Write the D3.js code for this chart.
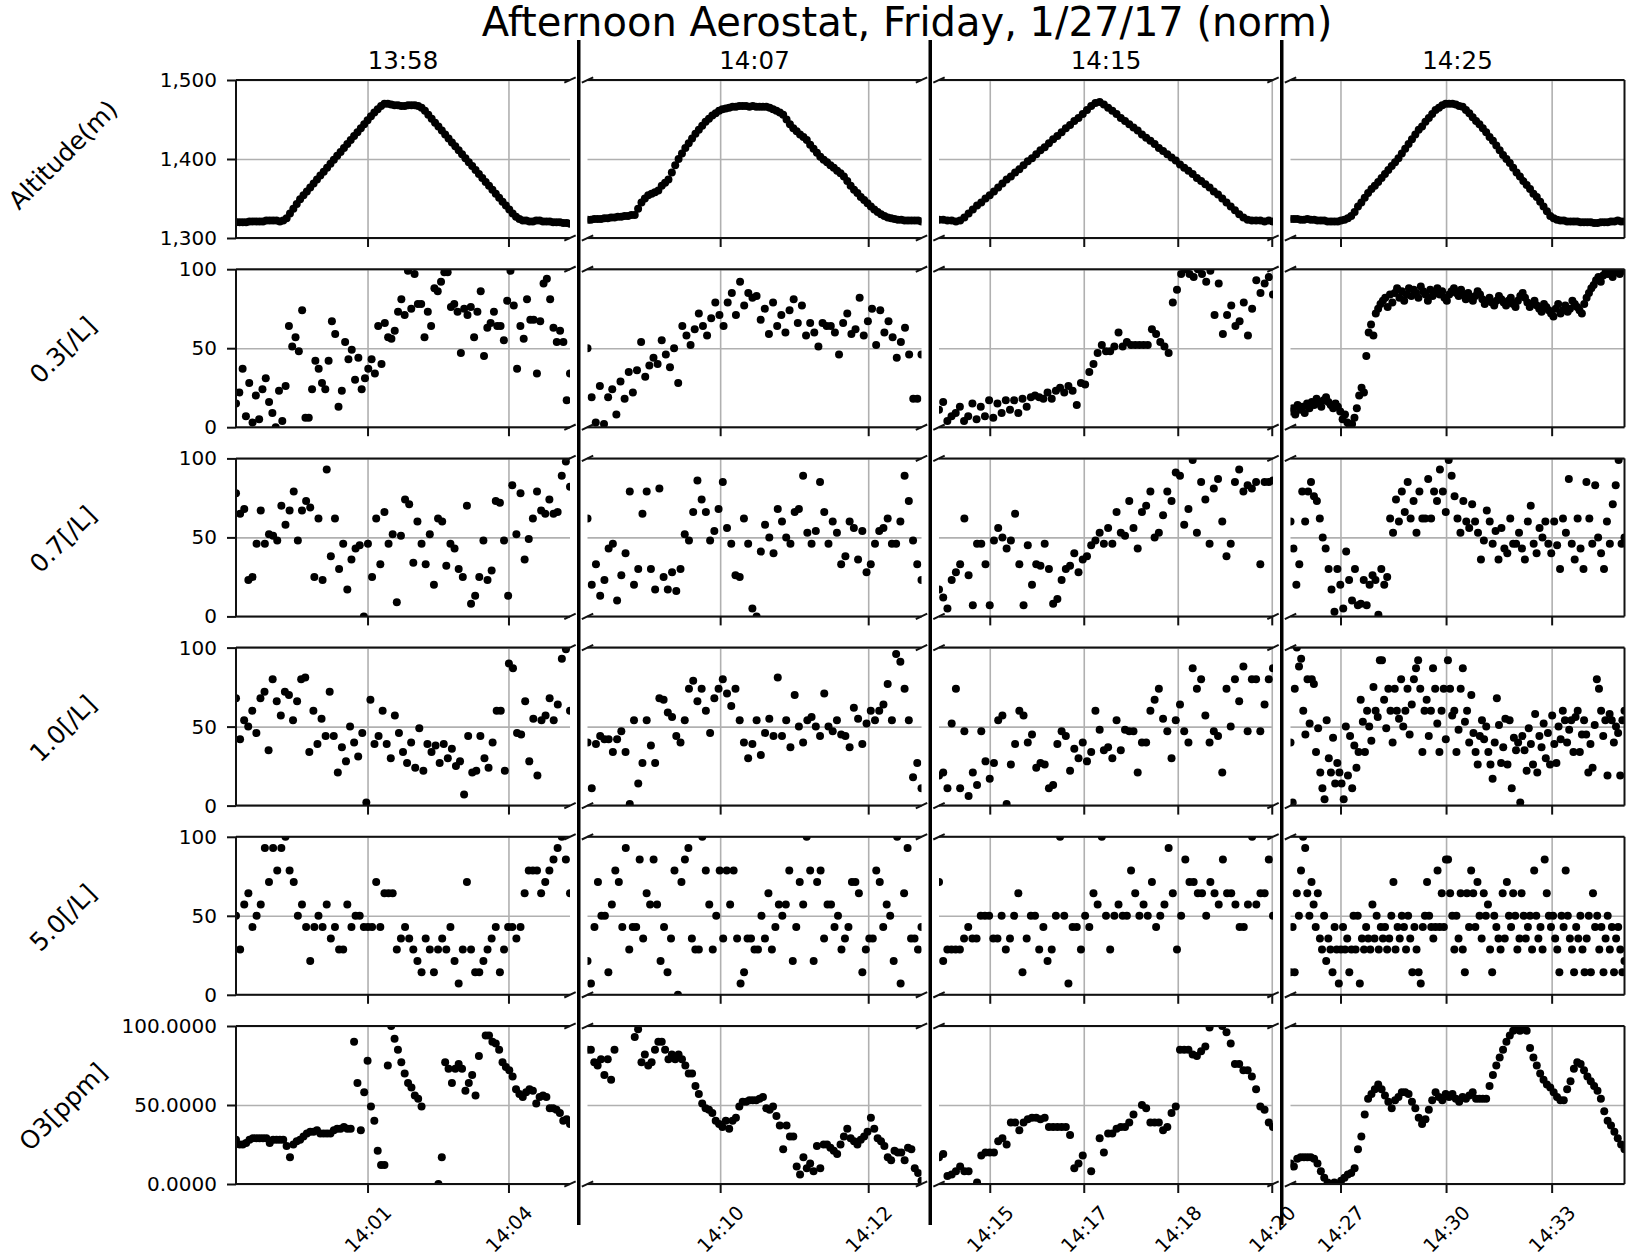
<!DOCTYPE html>
<html>
<head>
<meta charset="utf-8">
<script src="https://cdn.jsdelivr.net/npm/d3@7"></script>
<style>
  body { margin: 0; background: #fff; }
  svg text { font-family: "DejaVu Sans", sans-serif; fill: #000; }
</style>
</head>
<body>
<div id="plot"></div>
<script>
// ---- columns (one time window each) ----
const colTitles = ["13:58", "14:07", "14:15", "14:25"];
// window start / end, minutes after midnight
const colStart = [838.20, 847.76, 854.69, 865.58];
const colEnd   = [845.31, 853.40, 860.02, 875.07];
const colTicks = [[841, 844], [850, 852.5], [855.5, 857, 858.5, 860], [867, 870, 873]];
const colTickLabels = [["14:01", "14:04"], ["14:10", "14:12"], ["14:15", "14:17", "14:18", "14:20"], ["14:27", "14:30", "14:33"]];

// ---- rows ----
const rowLabels = ["Altitude(m)", "0.3[/L]", "0.7[/L]", "1.0[/L]", "5.0[/L]", "O3[ppm]"];
const altTicks = [1300, 1400, 1500];
const altTickLabels = ["1,300", "1,400", "1,500"];
const normTicks = [0, 50, 100];
const normTickLabels = ["0", "50", "100"];
const o3TickLabels = ["0.0000", "50.0000", "100.0000"];

// ---- altitude (m), evenly sampled over each window ----
const alt_a = [1320,1320,1320,1320,1321,1321,1321,1321,1321,1322,1322,1322,1322,1321,1322,
  1325,1331,1337,1343,1349,1354,1359,1364,1369,1374,1379,1384,1389,1394,1399,1404,1409,1414,1419,1424,1429,1434,1439,1444,1449,1454,1459,1463,1467,1470,
  1470,1469,1468,1468,1467,1467,1468,1468,1468,1467,
  1465,1461,1456,1451,1446,1441,1436,1431,1426,1421,1416,1411,1406,1401,1396,1391,1386,1381,1376,1371,1366,1361,1356,1351,1346,1341,1336,1331,1327,1324,1322,1322,
  1321,1321,1322,1322,1321,1321,1321,1320,1320,1320,1319,1319,1318];
const alt_b = [1323,1323,1324,1324,1324,1325,1325,1326,1326,1327,1327,1328,1328,1329,1329,
  1337,1345,1350,1354,1356,1358,1360,1366,1370,1374,1383,1392,1400,1407,1414,1420,1426,1432,
  1437,1442,1447,1451,1455,1458,1461,1463,1464,1465,1466,1466,1467,1467,1467,1466,1467,1466,1466,1466,
  1466,1465,1463,1461,1459,1456,1450,1444,1439,1435,1431,1428,1424,1418,1413,1408,
  1403,1399,1396,1392,1389,1385,1382,1378,1372,1366,1361,1357,1352,1348,1344,1340,1336,1333,1330,1328,1326,
  1325,1324,1323,1323,1322,1322,1322,1322,1322,1321];
const alt_c = [1323,1323,1322,1322,1321,
  1322,1326,1331,1336,1341,1345,1350,1354,1359,1364,1369,1374,1378,1383,1387,1392,1397,1401,1406,1411,1415,1420,1425,1429,1434,1439,1443,1448,1452,1457,1462,1467,1471,
  1472,
  1469,1465,1461,1457,1452,1448,1444,1440,1436,1431,1427,1423,1419,1414,1410,1406,1402,1398,1393,1389,1385,1381,1376,1372,1368,1364,1359,1355,1350,1345,1340,1335,1330,1326,
  1323,1322,1322,1322,1321,1322,1321];
const alt_d = [1324,1324,1324,1323,1323,1324,1323,1323,1322,1322,1322,1321,1321,1321,1321,1322,
  1323,1325,1328,1333,1340,1345,1351,1357,1362,1366,1371,1376,1381,1386,1391,1396,
  1401,1407,1413,1419,1425,1431,1437,1441,1447,1452,1457,1462,1465,1468,1470,1470,1470,1469,1467,
  1466,1462,1458,1453,1448,1444,1439,1434,1428,1423,1417,1411,1405,1400,1395,1389,1383,
  1378,1372,1367,1362,1356,1352,1346,1340,1334,1328,1325,1323,1322,
  1322,1321,1321,1321,1321,1320,1320,1320,1320,1319,1319,1320,1320,1320,1321,1321,1322,1321,1321];

// ---- 0.3 um counts (normalised) ----
const p03_a = [15,22,37,7,28,3,20,5,24,31,16,9,0,23,4,26,64,51,57,48,74,6,6,24,42,37,28,24,42,67,59,13,23,54,43,49,30,44,24,31,37,43,34,64,40,66,57,56,61,73,81,71,99,75,97,78,78,57,73,64,88,86,92,98,98,76,78,73,47,75,71,76,57,73,86,45,63,66,73,64,64,55,80,99,77,37,64,56,81,68,68,34,67,91,94,81,63,54,61,54,17,34];
const p03_b = [50,19,3,26,2,19,24,8,29,18,35,22,36,54,32,39,44,40,55,46,38,50,28,64,58,52,62,72,64,58,69,79,71,64,79,85,71,92,77,85,82,83,68,75,59,79,64,71,60,74,81,66,77,58,66,60,51,66,64,64,60,46,66,72,59,62,82,58,67,75,52,74,60,67,57,44,54,63,46,18,18,46];
const p03_c = [11,16,4,7,9,13,4,7,15,5,13,7,17,6,15,9,17,11,17,9,18,13,19,20,19,18,22,18,23,25,22,26,23,14,28,27,35,40,47,52,48,48,51,60,51,54,52,52,52,52,52,62,59,54,51,47,79,87,97,100,97,95,100,97,92,99,71,91,59,71,77,64,67,79,58,75,93,85,91,95,84];
const p03_d = [10,12,8,14,11,13,9,15,12,16,14,18,15,13,17,19,16,14,12,15,13,10,5,8,3,0,2,6,12,20,25,22,45,60,65,58,72,75,78,80,82,76,84,79,85,88,82,86,80,84,88,83,87,85,82,89,86,84,80,87,83,85,88,84,86,82,80,84,86,88,85,83,87,84,81,85,82,80,83,86,84,81,78,80,82,79,77,80,83,81,79,77,80,82,78,76,80,83,85,82,79,76,78,80,77,75,73,78,76,74,72,70,75,78,72,74,77,73,75,80,78,76,74,72,78,82,85,88,90,93,95,92,96,98,97,100,95,98,100,97,99,100];

// ---- 0.7 um ----
const p07_a = [78,65,68,23,25,46,67,46,52,51,48,70,58,67,79,48,67,73,69,25,62,23,93,38,62,30,46,17,36,43,45,0,46,25,62,33,66,46,52,9,51,74,71,34,60,46,33,52,20,62,60,32,46,43,30,25,70,8,13,25,48,23,29,73,72,48,13,83,52,78,36,49,62,79,67,65,74,65,66,89,98,82];
const p07_b = [62,20,33,13,23,43,46,10,26,40,79,20,30,65,79,30,17,81,25,17,28,16,30,52,48,66,86,74,66,48,54,68,85,56,46,26,25,62,46,5,0,41,58,50,40,68,60,50,46,66,68,89,53,46,54,85,66,46,60,53,33,38,60,56,36,54,28,33,46,54,56,62,46,46,60,89,73,48,33,23];
const p07_c = [17,12,5,23,28,33,62,26,7,46,46,33,7,48,56,50,43,48,65,33,7,45,20,33,32,46,30,8,11,23,30,32,40,28,36,38,45,48,53,46,56,46,66,53,51,73,56,43,66,70,79,50,53,64,79,73,91,89,58,68,99,53,85,74,46,81,87,60,38,46,85,93,79,83,81,85,33,85,85,86];
const p07_d = [60,43,20,33,79,60,79,85,76,73,62,50,43,30,17,3,30,20,5,41,23,10,30,7,8,23,7,20,26,23,1,30,20,25,62,53,74,60,79,66,85,62,73,53,79,62,62,87,62,79,73,93,79,66,99,89,76,62,53,73,60,56,71,60,53,36,48,67,60,46,54,36,56,43,40,62,46,46,53,43,36,60,70,46,40,56,50,60,46,40,60,45,30,62,53,87,46,36,62,43,30,85,62,46,83,50,40,30,60,46,71,83,99,46,50];

// ---- 1.0 um ----
const p10_a = [68,42,54,50,60,46,68,72,35,80,66,57,72,70,54,66,80,81,34,60,39,55,44,72,44,21,37,28,50,40,31,46,2,67,39,44,60,39,30,57,46,34,27,40,24,49,22,39,34,38,27,39,30,36,25,28,7,44,21,22,44,30,24,40,60,60,22,90,87,46,45,66,28,55,19,54,57,68,54,64,93,99,60];
const p10_b = [40,11,39,44,42,42,34,42,47,34,1,54,14,27,54,38,27,68,67,59,56,44,40,54,74,79,66,74,60,46,68,74,80,71,63,74,54,40,30,39,54,32,46,55,44,81,44,54,37,70,50,40,54,56,50,44,71,50,47,54,45,44,37,62,55,39,52,60,54,60,64,77,54,96,91,74,54,18,27,11];
const p10_c = [19,21,11,52,74,11,47,6,21,13,47,28,17,27,54,57,1,26,39,60,57,40,45,24,27,26,11,13,39,47,44,22,36,30,40,28,34,60,48,35,37,30,54,35,48,47,47,21,40,40,60,67,74,55,47,30,54,64,47,40,87,74,80,57,40,47,44,21,74,50,80,66,88,47,80,80,47,64,80,87];
const p10_d = [40,2,74,100,88,93,60,45,80,52,80,77,34,49,21,11,4,54,30,21,43,14,27,21,14,4,50,19,44,11,38,24,34,67,53,34,60,50,41,75,60,56,92,92,67,49,74,60,40,74,60,55,80,50,60,74,45,64,80,87,92,74,34,60,67,44,60,87,74,52,34,60,74,42,92,74,57,60,34,48,74,87,53,60,40,70,46,34,26,44,54,42,50,34,26,17,40,68,51,27,37,55,26,54,11,43,35,40,2,44,35,22,49,39,26,58,21,44,37,52,30,46,26,57,39,27,50,42,60,54,40,48,54,34,56,60,34,45,54,45,21,39,24,51,80,74,60,44,54,19,58,54,40,50,46,19,54,60];

// ---- 5.0 um (counts come in steps of 1/14) ----
const p50_a = [50,28.6,57.1,64.3,42.9,50,57.1,92.9,71.4,92.9,78.6,92.9,100,78.6,71.4,50,57.1,42.9,21.4,42.9,50,42.9,57.1,35.7,42.9,28.6,28.6,57.1,42.9,50,50,42.9,42.9,42.9,71.4,42.9,64.3,64.3,64.3,28.6,35.7,42.9,35.7,28.6,21.4,14.3,35.7,28.6,14.3,28.6,35.7,28.6,42.9,21.4,7.1,28.6,71.4,28.6,14.3,14.3,21.4,28.6,35.7,42.9,14.3,28.6,42.9,42.9,35.7,42.9,64.3,78.6,78.6,78.6,64.3,71.4,78.6,85.7,92.9,100,85.7,64.3];
const p50_b = [21.4,7.1,42.9,71.4,50,50,14.3,57.1,78.6,71.4,42.9,92.9,28.6,42.9,42.9,85.7,35.7,64.3,57.1,85.7,57.1,21.4,42.9,14.3,35.7,78.6,0,71.4,85.7,92.9,35.7,28.6,28.6,100,78.6,57.1,28.6,50,78.6,35.7,78.6,57.1,78.6,35.7,7.1,14.3,35.7,35.7,28.6,28.6,50,35.7,64.3,28.6,42.9,57.1,50,57.1,78.6,21.4,42.9,71.4,57.1,100,78.6,21.4,71.4,78.6,35.7,57.1,57.1,42.9,50,28.6,35.7,42.9,71.4,71.4,64.3,14.3,28.6,35.7,35.7,78.6,71.4,42.9,57.1,50,21.4,100,7.1,64.3,92.9,35.7,35.7,28.6,42.9];
const p50_c = [71.4,21.4,28.6,28.6,28.6,28.6,35.7,42.9,35.7,35.7,50,50,50,35.7,35.7,50,28.6,35.7,50,64.3,14.3,35.7,50,50,28.6,42.9,21.4,28.6,50,100,50,7.1,42.9,42.9,28.6,50,42.9,64.3,57.1,100,50,28.6,50,57.1,50,50,78.6,64.3,50,57.1,50,71.4,42.9,50,57.1,92.9,64.3,28.6,50,85.7,71.4,71.4,64.3,64.3,50,71.4,64.3,57.1,85.7,64.3,64.3,57.1,42.9,42.9,57.1,100,57.1,64.3,64.3,85.7,50];
const p50_d = [14.3,42.9,14.3,64.3,50,78.6,100,92.9,64.3,50,71.4,57.1,42.9,64.3,35.7,28.6,50,21.4,35.7,28.6,14.3,42.9,28.6,7.1,28.6,42.9,28.6,35.7,14.3,28.6,50,28.6,50,7.1,35.7,28.6,42.9,35.7,28.6,57.1,35.7,50,28.6,42.9,35.7,42.9,28.6,35.7,50,71.4,28.6,42.9,35.7,50,42.9,28.6,50,35.7,14.3,42.9,28.6,14.3,7.1,42.9,50,71.4,50,42.9,35.7,42.9,78.6,42.9,64.3,42.9,85.7,85.7,64.3,50,28.6,50,35.7,64.3,28.6,14.3,64.3,42.9,78.6,64.3,42.9,71.4,50,35.7,64.3,50,57.1,28.6,14.3,50,42.9,35.7,28.6,64.3,35.7,71.4,50,42.9,64.3,50,28.6,35.7,64.3,50,35.7,42.9,50,28.6,78.6,50,35.7,42.9,28.6,85.7,64.3,50,42.9,50,35.7,28.6,14.3,50,42.9,78.6,50,35.7,28.6,14.3,42.9,35.7,50,28.6,14.3,35.7,50,14.3,64.3,42.9,50,28.6,42.9,14.3,35.7,50,28.6,42.9,14.3,35.7,42.9,28.6,14.3,21.4];

// ---- ozone (normalised), null = no reading ----
const o3_a = [28,25,25,26,28,29,29,29,29,29,26,28,28,28,28,24,17,25,27,28,30,32,33,33,34,32,32,32,32,34,35,35,36,35,35,90,64,34,58,78,49,40,21,12,12,75,100,92,85,77,70,64,61,56,54,49,null,null,null,null,0,17,77,73,64,73,76,73,59,64,69,56,81,null,94,94,90,89,85,77,74,72,68,60,57,55,58,60,59,51,55,56,55,48,48,47,45,40,41,38];
const o3_b = [85,85,77,75,79,69,79,66,85,null,null,null,null,null,93,98,77,82,75,77,85,90,90,85,79,82,79,82,79,75,70,70,62,57,51,48,47,45,40,38,36,40,35,40,42,49,52,52,53,53,53,54,55,48,47,49,43,37,22,37,30,30,11,6,17,10,13,8,24,10,25,25,23,21,19,25,30,35,29,27,25,28,30,33,42,35,29,27,24,17,15,21,20,20,15,23,22,10,7,2];
const o3_c = [17,19,5,6,8,11,8,8,null,1,18,20,20,20,27,29,25,39,39,34,39,41,42,42,41,42,36,36,36,36,36,31,10,13,18,null,8,null,29,20,32,32,35,36,36,39,44,null,50,48,39,39,39,34,36,45,49,85,85,85,82,81,84,87,99,null,null,100,96,89,76,76,72,72,68,60,49,47,39,36];
const o3_d = [13,11,16,17,17,17,17,16,13,8,4,1,null,1,null,2,4,6,7,10,22,30,44,54,57,60,63,60,56,52,48,53,55,58,58,57,52,48,42,38,41,47,53,58,55,53,57,55,57,54,52,55,54,56,58,54,54,54,54,62,69,75,80,85,90,94,97,98,97,98,97,86,80,75,70,66,63,61,58,55,53,53,60,65,73,77,76,72,68,65,62,59,54,46,40,37,33,29,25,22];

const rows = [
  {label: rowLabels[0], domain: [1300, 1500], ticks: altTicks,  tickLabels: altTickLabels,  series: [alt_a, alt_b, alt_c, alt_d]},
  {label: rowLabels[1], domain: [0, 100],     ticks: normTicks, tickLabels: normTickLabels, series: [p03_a, p03_b, p03_c, p03_d]},
  {label: rowLabels[2], domain: [0, 100],     ticks: normTicks, tickLabels: normTickLabels, series: [p07_a, p07_b, p07_c, p07_d]},
  {label: rowLabels[3], domain: [0, 100],     ticks: normTicks, tickLabels: normTickLabels, series: [p10_a, p10_b, p10_c, p10_d]},
  {label: rowLabels[4], domain: [0, 100],     ticks: normTicks, tickLabels: normTickLabels, series: [p50_a, p50_b, p50_c, p50_d]},
  {label: rowLabels[5], domain: [0, 100],     ticks: normTicks, tickLabels: o3TickLabels,   series: [o3_a, o3_b, o3_c, o3_d]}
];

// ---- layout ----
const W = 1639, H = 1258;
const left0 = 236, top0 = 80;
const colW = 334, colGap = 17.5;
const rowH = 158, rowPitch = 189.2;
const tickLen = 9;
const dotR = 4;
const ink = "#111";
const gridColor = "#b0b0b0";

const svg = d3.select("#plot").append("svg")
  .attr("width", W)
  .attr("height", H);

const defs = svg.append("defs");

svg.append("text")
  .attr("x", 907)
  .attr("y", 36)
  .attr("text-anchor", "middle")
  .style("font-size", "40px")
  .text("Afternoon Aerostat, Friday, 1/27/17 (norm)");

colTitles.forEach((t, c) => {
  svg.append("text")
    .attr("x", left0 + c * (colW + colGap) + colW / 2)
    .attr("y", 68.5)
    .attr("text-anchor", "middle")
    .style("font-size", "24.5px")
    .text(t);
});

rows.forEach((row, r) => {
  const top = top0 + r * rowPitch;
  const bottom = top + rowH;
  const y = d3.scaleLinear().domain(row.domain).range([bottom, top]);
  const lastRow = r === rows.length - 1;

  // row label, turned 45 degrees
  const labelShift = r === 0 ? -4 : 2;
  svg.append("text")
    .attr("transform", `translate(63,${top + rowH / 2 + labelShift}) rotate(-45)`)
    .attr("text-anchor", "middle")
    .attr("dominant-baseline", "central")
    .style("font-size", "25px")
    .text(row.label);

  colTitles.forEach((title, c) => {
    const left = left0 + c * (colW + colGap);
    const right = left + colW;
    const x = d3.scaleLinear().domain([colStart[c], colEnd[c]]).range([left, right]);
    const g = svg.append("g");

    // grid
    const gx = g.append("g")
      .attr("transform", `translate(0,${top})`)
      .call(d3.axisBottom(x).tickValues(colTicks[c]).tickSize(rowH).tickFormat(""));
    const gy = g.append("g")
      .attr("transform", `translate(${left},0)`)
      .call(d3.axisRight(y).tickValues(row.ticks).tickSize(colW).tickFormat(""));
    [gx, gy].forEach(a => {
      a.select(".domain").remove();
      a.selectAll("line").attr("stroke", gridColor).attr("stroke-width", 1.6);
    });

    // points
    const clipId = `clip-${r}-${c}`;
    defs.append("clipPath").attr("id", clipId)
      .append("rect")
      .attr("x", left).attr("y", top)
      .attr("width", colW).attr("height", rowH);

    const vals = row.series[c];
    const t = d3.scaleLinear().domain([0, vals.length - 1]).range([colStart[c], colEnd[c]]);
    const pts = vals.map((v, i) => ({t: t(i), v: v})).filter(d => d.v !== null);

    g.append("g")
      .attr("clip-path", `url(#${clipId})`)
      .selectAll("circle")
      .data(pts)
      .join("circle")
      .attr("cx", d => x(d.t))
      .attr("cy", d => y(d.v))
      .attr("r", dotR)
      .attr("fill", "#000");

    // spines
    const spine = (x1, y1, x2, y2) => g.append("line")
      .attr("x1", x1).attr("y1", y1).attr("x2", x2).attr("y2", y2)
      .attr("stroke", ink).attr("stroke-width", 2);
    spine(left, top, right, top);
    spine(left, bottom, right, bottom);
    if (c === 0) spine(left, top, left, bottom);
    if (c === colTitles.length - 1) spine(right, top, right, bottom);

    // break marks on the inner edges
    const brk = (cx, cy) => g.append("line")
      .attr("x1", cx - 5.7).attr("y1", cy + 2.7)
      .attr("x2", cx + 5.7).attr("y2", cy - 2.7)
      .attr("stroke", ink).attr("stroke-width", 2);
    if (c > 0) { brk(left, top); brk(left, bottom); }
    if (c < colTitles.length - 1) { brk(right, top); brk(right, bottom); }

    // x ticks
    const xa = g.append("g")
      .attr("transform", `translate(0,${bottom})`)
      .call(d3.axisBottom(x)
        .tickValues(colTicks[c])
        .tickSize(tickLen)
        .tickFormat((d, i) => lastRow ? colTickLabels[c][i] : ""));
    xa.select(".domain").remove();
    xa.selectAll("line").attr("stroke", ink).attr("stroke-width", 2);
    xa.selectAll("text")
      .attr("y", 0)
      .attr("dy", "0.35em")
      .attr("transform", "translate(0,45) rotate(-45)")
      .attr("text-anchor", "middle")
      .style("font-size", "19.5px")
      .style("font-family", "DejaVu Sans, sans-serif")
      .attr("fill", "#000");

    // y ticks on the first column only
    if (c === 0) {
      const ya = g.append("g")
        .attr("transform", `translate(${left},0)`)
        .call(d3.axisLeft(y)
          .tickValues(row.ticks)
          .tickSize(tickLen)
          .tickPadding(10)
          .tickFormat((d, i) => row.tickLabels[i]));
      ya.select(".domain").remove();
      ya.selectAll("line").attr("stroke", ink).attr("stroke-width", 2);
      ya.selectAll("text")
        .style("font-size", "20px")
        .style("font-family", "DejaVu Sans, sans-serif")
        .attr("fill", "#000");
    }
  });
});

// heavy separators between the time windows
d3.range(colTitles.length - 1).forEach(c => {
  const xs = left0 + (c + 1) * (colW + colGap) - colGap / 2;
  svg.append("line")
    .attr("x1", xs).attr("x2", xs)
    .attr("y1", 40).attr("y2", 1225)
    .attr("stroke", "#000")
    .attr("stroke-width", 3.5);
});
</script>
</body>
</html>
